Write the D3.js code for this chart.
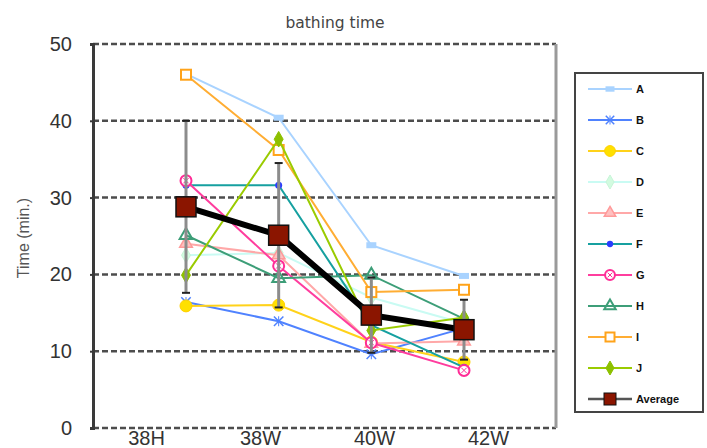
<!DOCTYPE html>
<html>
<head>
<meta charset="utf-8">
<script src="https://cdn.jsdelivr.net/npm/d3@7"></script>
<style>
  html, body { margin: 0; padding: 0; background: #fff; }
  svg { display: block; }
</style>
</head>
<body>
<svg id="chart" width="707" height="448"></svg>
<script>
// Bathing time per measurement week, ten subjects plus the group mean
const categories = ["38H", "38W", "40W", "42W"];
const seriesNames = ["A", "B", "C", "D", "E", "F", "G", "H", "I", "J"];
const valuesA = [46.1, 40.4, 23.8, 19.8];
const valuesB = [16.4, 13.9, 9.6, 13.0];
const valuesC = [15.9, 16.0, 11.2, 8.6];
const valuesD = [22.5, 22.8, 17.0, 13.6];
const valuesE = [24.0, 22.5, 11.0, 11.3];
const valuesF = [31.6, 31.6, 13.4, 7.9];
const valuesG = [32.2, 21.1, 11.1, 7.5];
const valuesH = [25.1, 19.5, 19.9, 14.2];
const valuesI = [46.0, 36.2, 17.7, 18.0];
const valuesJ = [19.9, 37.6, 12.7, 14.4];
const averageValues = [28.8, 25.1, 14.7, 12.8];
const averageSD = [11.2, 9.4, 4.9, 3.9];
const yTicks = [0, 10, 20, 30, 40, 50];

const seriesValues = [valuesA, valuesB, valuesC, valuesD, valuesE, valuesF, valuesG, valuesH, valuesI, valuesJ];

// line colour, marker shape, marker stroke, marker fill
const styles = [
  { line: "#a9d3ff", shape: "dash",     stroke: "#a9d3ff", fill: "#a9d3ff" },
  { line: "#4f82ff", shape: "cross",    stroke: "#4f82ff", fill: "none" },
  { line: "#ffd21a", shape: "circle",   stroke: "#ffd000", fill: "#ffe000" },
  { line: "#c9fbf3", shape: "diamond",  stroke: "#c8f5d8", fill: "#d2fbe0" },
  { line: "#ffa8a8", shape: "triangle", stroke: "#ff9a9a", fill: "#ffc0c0" },
  { line: "#16a0a0", shape: "dot",      stroke: "#2a3cff", fill: "#2a3cff" },
  { line: "#ff3d9e", shape: "circlex",  stroke: "#ff2c96", fill: "none" },
  { line: "#3d9e78", shape: "triangleo",stroke: "#3d9e78", fill: "none" },
  { line: "#ffad33", shape: "square",   stroke: "#ffa31a", fill: "#fff" },
  { line: "#9acb00", shape: "diamond",  stroke: "#8dc000", fill: "#8dc000" }
];

const svg = d3.select("#chart");
const plot = { left: 93, right: 556, top: 44, bottom: 428 };

const y = d3.scaleLinear().domain([0, 50]).range([plot.bottom, plot.top]);
const x = d3.scalePoint().domain(categories).range([186, 464]);
const xLabel = d3.scalePoint().domain(categories).range([146, 488]);

// title
svg.append("text")
  .attr("x", 335).attr("y", 28)
  .attr("text-anchor", "middle")
  .attr("font-family", "DejaVu Sans, sans-serif")
  .attr("font-size", 15.5)
  .attr("fill", "#444")
  .text("bathing time");

// dashed grid lines, including the top and bottom edges
svg.append("g").selectAll("line")
  .data(yTicks)
  .join("line")
  .attr("x1", plot.left).attr("x2", plot.right)
  .attr("y1", d => y(d)).attr("y2", d => y(d))
  .attr("stroke", "#4d4d4d")
  .attr("stroke-width", 2.5)
  .attr("stroke-dasharray", "6,3");

// right border
svg.append("line")
  .attr("x1", plot.right).attr("x2", plot.right)
  .attr("y1", plot.top).attr("y2", plot.bottom)
  .attr("stroke", "#9a9a9a").attr("stroke-width", 3);

// y axis
const yAxis = svg.append("g")
  .attr("transform", `translate(${plot.left},0)`)
  .call(d3.axisLeft(y).tickValues(yTicks).tickSize(3).tickPadding(18));
yAxis.select(".domain").attr("stroke", "#3a3a3a").attr("stroke-width", 3);
yAxis.selectAll(".tick line").attr("stroke", "#3a3a3a").attr("stroke-width", 2);
yAxis.selectAll(".tick text")
  .attr("font-family", "Liberation Sans, Arial, sans-serif")
  .attr("font-size", 20)
  .attr("fill", "#333");

svg.append("text")
  .attr("transform", "translate(29,238) rotate(-90)")
  .attr("text-anchor", "middle")
  .attr("font-family", "Liberation Sans, Arial, sans-serif")
  .attr("font-size", 16)
  .attr("fill", "#555")
  .text("Time (min.)");

// x axis labels
const xAxis = svg.append("g")
  .attr("transform", `translate(0,${plot.bottom})`)
  .call(d3.axisBottom(xLabel).tickSize(0).tickPadding(3));
xAxis.select(".domain").remove();
xAxis.selectAll(".tick text")
  .attr("font-family", "Liberation Sans, Arial, sans-serif")
  .attr("font-size", 20)
  .attr("fill", "#333");

// marker drawing helper
function drawMarker(g, shape, cx, cy, st, s) {
  const sz = s || 1;
  switch (shape) {
    case "dash":
      g.append("rect").attr("x", cx - 5 * sz).attr("y", cy - 3 * sz).attr("width", 10 * sz).attr("height", 6 * sz)
        .attr("fill", st.fill).attr("stroke", "none");
      break;
    case "cross":
      g.append("path").attr("d", d3.symbol(d3.symbolTimes, 60 * sz * sz)()).attr("transform", `translate(${cx},${cy})`)
        .attr("fill", "none").attr("stroke", st.stroke).attr("stroke-width", 1.5);
      g.append("line").attr("x1", cx).attr("x2", cx).attr("y1", cy - 5 * sz).attr("y2", cy + 5 * sz)
        .attr("stroke", st.stroke).attr("stroke-width", 1);
      break;
    case "circle":
      g.append("circle").attr("cx", cx).attr("cy", cy).attr("r", 6 * sz)
        .attr("fill", st.fill).attr("stroke", st.stroke).attr("stroke-width", 1);
      break;
    case "dot":
      g.append("circle").attr("cx", cx).attr("cy", cy).attr("r", 3.5 * sz)
        .attr("fill", st.fill).attr("stroke", "none");
      break;
    case "circlex":
      g.append("circle").attr("cx", cx).attr("cy", cy).attr("r", 5.5 * sz)
        .attr("fill", "#fff").attr("stroke", st.stroke).attr("stroke-width", 2);
      g.append("path").attr("d", d3.symbol(d3.symbolTimes, 20 * sz * sz)()).attr("transform", `translate(${cx},${cy})`)
        .attr("fill", "none").attr("stroke", st.stroke).attr("stroke-width", 1);
      break;
    case "diamond":
      g.append("path").attr("d", d3.symbol(d3.symbolDiamond, 70 * sz * sz)()).attr("transform", `translate(${cx},${cy})`)
        .attr("fill", st.fill).attr("stroke", st.stroke).attr("stroke-width", 1);
      break;
    case "triangle":
      g.append("path").attr("d", d3.symbol(d3.symbolTriangle, 70 * sz * sz)()).attr("transform", `translate(${cx},${cy})`)
        .attr("fill", st.fill).attr("stroke", st.stroke).attr("stroke-width", 1.5);
      break;
    case "triangleo":
      g.append("path").attr("d", d3.symbol(d3.symbolTriangle, 70 * sz * sz)()).attr("transform", `translate(${cx},${cy})`)
        .attr("fill", "none").attr("stroke", st.stroke).attr("stroke-width", 2);
      break;
    case "square":
      g.append("rect").attr("x", cx - 5 * sz).attr("y", cy - 5 * sz).attr("width", 10 * sz).attr("height", 10 * sz)
        .attr("fill", st.fill).attr("stroke", st.stroke).attr("stroke-width", 2);
      break;
    case "avg":
      g.append("rect").attr("x", cx - 10).attr("y", cy - 10).attr("width", 20).attr("height", 20)
        .attr("fill", "#8b1500").attr("stroke", "#111").attr("stroke-width", 1.5);
      break;
  }
}

const line = d3.line().x((d, i) => x(categories[i])).y(d => y(d));

// individual subject series
seriesValues.forEach((vals, k) => {
  const st = styles[k];
  const g = svg.append("g");
  g.append("path").datum(vals).attr("d", line)
    .attr("fill", "none").attr("stroke", st.line).attr("stroke-width", 2);
  vals.forEach((v, i) => drawMarker(g, st.shape, x(categories[i]), y(v), st));
});

// error bars (± SD) on the mean
const eb = svg.append("g");
averageValues.forEach((m, i) => {
  const cx = x(categories[i]);
  eb.append("line").attr("x1", cx).attr("x2", cx)
    .attr("y1", y(m + averageSD[i])).attr("y2", y(m - averageSD[i]))
    .attr("stroke", "#8c8c8c").attr("stroke-width", 3);
  [m + averageSD[i], m - averageSD[i]].forEach(v => {
    eb.append("line").attr("x1", cx - 4).attr("x2", cx + 4)
      .attr("y1", y(v)).attr("y2", y(v))
      .attr("stroke", "#222").attr("stroke-width", 2);
  });
});

// group mean
const avgG = svg.append("g");
avgG.append("path").datum(averageValues).attr("d", line)
  .attr("fill", "none").attr("stroke", "#000").attr("stroke-width", 6);
averageValues.forEach((v, i) => drawMarker(avgG, "avg", x(categories[i]), y(v)));

// legend
const legend = svg.append("g");
legend.append("rect")
  .attr("x", 575).attr("y", 73).attr("width", 128).attr("height", 339)
  .attr("fill", "#fff").attr("stroke", "#444").attr("stroke-width", 2);
const legendNames = seriesNames.concat(["Average"]);
legendNames.forEach((name, k) => {
  const ly = 89 + k * 31;
  const g = legend.append("g");
  if (k < seriesNames.length) {
    const st = styles[k];
    g.append("line").attr("x1", 588).attr("x2", 632).attr("y1", ly).attr("y2", ly)
      .attr("stroke", st.line).attr("stroke-width", 2);
    drawMarker(g, st.shape, 610, ly, st, 0.9);
  } else {
    g.append("line").attr("x1", 588).attr("x2", 632).attr("y1", ly).attr("y2", ly)
      .attr("stroke", "#555").attr("stroke-width", 2.5);
    g.append("rect").attr("x", 604).attr("y", ly - 6).attr("width", 12).attr("height", 12)
      .attr("fill", "#8b1500").attr("stroke", "#111").attr("stroke-width", 1);
  }
  g.append("text").attr("x", 636).attr("y", ly + 4)
    .attr("font-family", "Liberation Sans, Arial, sans-serif")
    .attr("font-size", 11).attr("font-weight", "bold")
    .attr("fill", "#111")
    .text(name);
});
</script>
</body>
</html>
